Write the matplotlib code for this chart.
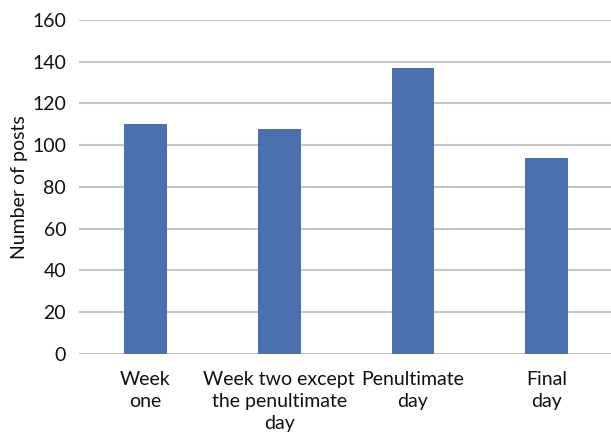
import matplotlib
matplotlib.use("Agg")
import matplotlib.pyplot as plt

# Posting activity by period
categories = ["Week\none", "Week two except\nthe penultimate\nday", "Penultimate\nday", "Final\nday"]
posts = [110, 108, 137, 94]
y_ticks = [0, 20, 40, 60, 80, 100, 120, 140, 160]

plt.rcParams["font.family"] = ["Lato", "DejaVu Sans"]

fig = plt.figure(figsize=(6.11, 4.32), dpi=100)
ax = fig.add_axes([0.1288, 0.1806, 0.8752, 0.7731])

x = range(len(categories))
ax.bar(x, posts, width=0.32, color="#4A70B0", zorder=3)

ax.set_xlim(-0.5, len(categories) - 0.5)
ax.set_ylim(0, 160)
ax.set_yticks(y_ticks)
ax.set_yticklabels([str(v) for v in y_ticks], fontsize=14, color="#111111")
ax.set_xticks(list(x))
ax.set_xticklabels(categories, fontsize=14, color="#111111", linespacing=1.36, va="top")

ax.grid(axis="y", color="#C6C6C6", linewidth=1.5, zorder=0)
ax.tick_params(axis="y", length=0, pad=9)
ax.tick_params(axis="x", length=0, pad=12)
for side in ["top", "right", "left", "bottom"]:
    ax.spines[side].set_visible(False)

ax.set_ylabel("Number of posts", fontsize=14, color="#111111")
ax.yaxis.set_label_coords(-0.095, 0.5)

fig.savefig("out.png", dpi=100)
